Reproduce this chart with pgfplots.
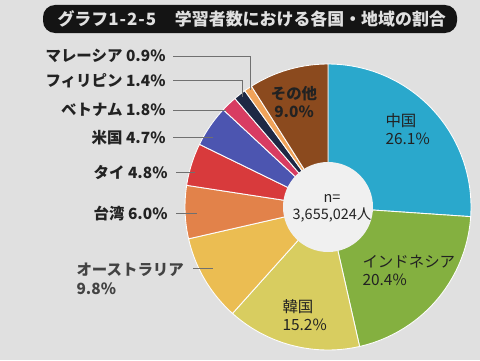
\documentclass[border=0pt]{standalone}
\usepackage{pgfplots}
\pgfplotsset{compat=1.18}
\usepackage{pgfplotstable}
\usepackage{fontspec}
\setmainfont{Noto Sans CJK JP}
\definecolor{cChina}{HTML}{2AA8CC}
\definecolor{cIndo}{HTML}{84B040}
\definecolor{cKorea}{HTML}{D8CD60}
\definecolor{cAus}{HTML}{EBBD52}
\definecolor{cTaiwan}{HTML}{E2824A}
\definecolor{cThai}{HTML}{D83A3C}
\definecolor{cUS}{HTML}{4C55B0}
\definecolor{cViet}{HTML}{D83C62}
\definecolor{cPhil}{HTML}{1E2844}
\definecolor{cMalay}{HTML}{F0A35A}
\definecolor{cOther}{HTML}{8B4A1E}
\definecolor{bg}{HTML}{E0E0E0}
\definecolor{hole}{HTML}{F0F0F0}
\definecolor{txt}{HTML}{222222}
\definecolor{lead}{HTML}{707070}
\pgfplotstableread{
value color
26.1 cChina
20.4 cIndo
15.2 cKorea
9.8 cAus
6.0 cTaiwan
4.8 cThai
4.7 cUS
1.8 cViet
1.4 cPhil
0.9 cMalay
9.0 cOther
}\piedata
\begin{document}
\begin{tikzpicture}
\begin{axis}[
  width=480bp, height=360bp, scale only axis,
  xmin=0, xmax=480, ymin=0, ymax=360,
  hide axis, clip=false,
]
% background
\fill[bg] (axis cs:0,0) rectangle (axis cs:480,360);
% title bar
\fill[black!92, rounded corners=12bp] (axis cs:43,327) rectangle (axis cs:457,355);
\node[anchor=west, text=white!88!black, font=\fontsize{17}{19}\selectfont\bfseries] at (axis cs:54,341) {グラフ1{\hspace{0.06em}}-{\hspace{0.06em}}2{\hspace{0.06em}}-{\hspace{0.06em}}5\hspace{1.1em}学習者数における各国・地域の割合};
% wedges
\def\cum{0}
\pgfplotsforeachungrouped \i in {0,...,10} {
  \pgfplotstablegetelem{\i}{value}\of\piedata \let\wv\pgfplotsretval
  \pgfplotstablegetelem{\i}{color}\of\piedata \let\wc\pgfplotsretval
  \pgfmathsetmacro\aS{90-3.5964*\cum}
  \pgfmathsetmacro\cum{\cum+\wv}
  \pgfmathsetmacro\aE{90-3.5964*\cum}
  \edef\temp{\noexpand\addplot[fill=\wc, draw=white!92!bg, line width=0.9pt, domain=\aE:\aS, samples=80, variable=\noexpand\t] ({328+143*cos(\noexpand\t)},{153+143*sin(\noexpand\t)}) -- (axis cs:328,153) -- cycle;}
  \temp
}
% hole
\fill[hole] (axis cs:328,153) circle[radius=45bp];
\node[align=center, text=txt, font=\fontsize{14.5}{17}\selectfont] at (axis cs:332,152) {n=\\3,655,024人};
% inside labels
\begin{scope}[text=txt, font=\fontsize{15.5}{18}\selectfont]
\node[anchor=west, align=left] at (axis cs:382,231) {中国\\26.1\%};
\node[anchor=west, align=left] at (axis cs:359,90) {インドネシア\\20.4\%};
\node[anchor=west, align=left] at (axis cs:279,45) {韓国\\15.2\%};
\node[align=center, font=\fontsize{15.5}{18}\selectfont\bfseries] at (axis cs:294,258) {その他\\9.0\%};
\end{scope}
% left labels
\begin{scope}[text=txt, font=\fontsize{15.5}{17}\selectfont\bfseries]
\node[anchor=east] at (axis cs:169,304) {マレーシア 0.9\%};
\node[anchor=east] at (axis cs:169,279) {フィリピン 1.4\%};
\node[anchor=east] at (axis cs:169,250) {ベトナム 1.8\%};
\node[anchor=east] at (axis cs:169,222) {米国 4.7\%};
\node[anchor=east] at (axis cs:171,187) {タイ 4.8\%};
\node[anchor=east] at (axis cs:171,146) {台湾 6.0\%};
\end{scope}
\node[anchor=west, align=left, text=txt!85!white, font=\fontsize{15.5}{19}\selectfont\bfseries] at (axis cs:73,81) {オーストラリア\\9.8\%};
% leader lines
\begin{scope}[lead, line width=0.8pt]
\draw (axis cs:173,304) -- (axis cs:250,304) -- (axis cs:250,270);
\draw (axis cs:173,280) -- (axis cs:242,280) -- (axis cs:242,263);
\draw (axis cs:173,250) -- (axis cs:226,250);
\draw (axis cs:173,223) -- (axis cs:213,223);
\draw (axis cs:176,188) -- (axis cs:195,188);
\draw (axis cs:176,147) -- (axis cs:197,147);
\draw (axis cs:193,92) -- (axis cs:213,92);
\end{scope}
\end{axis}
\end{tikzpicture}
\end{document}
